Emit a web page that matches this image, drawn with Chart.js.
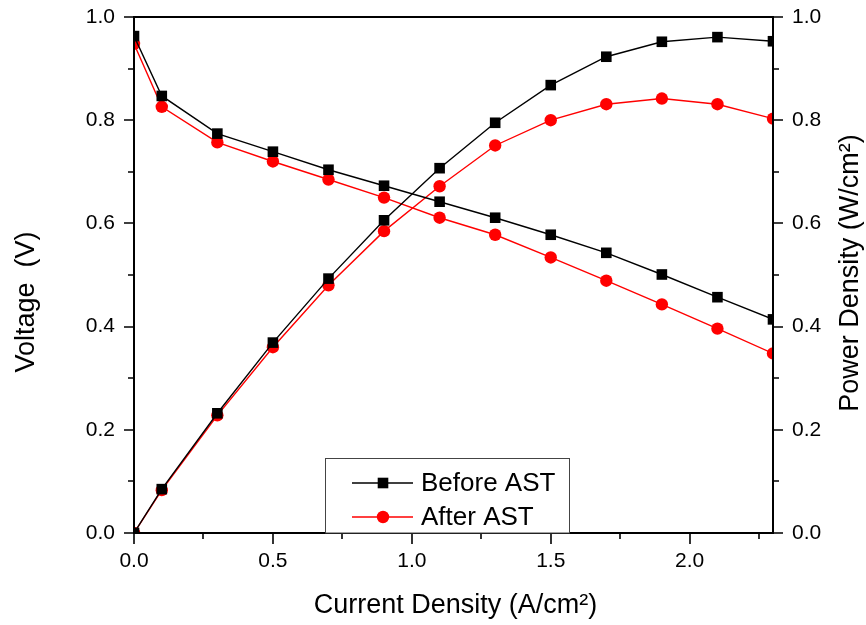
<!DOCTYPE html>
<html>
<head>
<meta charset="UTF-8"/>
<title>Polarization before / after AST</title>
<script src="https://cdn.jsdelivr.net/npm/chart.js@4.4.3/dist/chart.umd.min.js"></script>
<style>
  *{margin:0;padding:0}
  body{background:#fff;width:866px;height:625px;overflow:hidden}
  canvas{display:block}
</style>
</head>
<body>
<canvas id="chart" width="866" height="625"></canvas>
<script>
// ─── Data ─────────────────────────────────────────────────────────────────────
const currentDensity = [0, 0.1, 0.3, 0.5, 0.7, 0.9, 1.1, 1.3, 1.5, 1.7, 1.9, 2.1, 2.3];
const voltageBefore  = [0.963, 0.847, 0.774, 0.739, 0.704, 0.673, 0.642, 0.611, 0.578, 0.543, 0.501, 0.457, 0.414];
const voltageAfter   = [0.948, 0.826, 0.757, 0.720, 0.685, 0.650, 0.611, 0.578, 0.534, 0.489, 0.443, 0.396, 0.348];
const powerBefore    = [0, 0.085, 0.232, 0.369, 0.493, 0.606, 0.707, 0.795, 0.868, 0.923, 0.952, 0.961, 0.953];
const powerAfter     = [0, 0.083, 0.228, 0.360, 0.480, 0.585, 0.672, 0.751, 0.800, 0.831, 0.842, 0.831, 0.803];

const seriesNames = ['Before AST', 'After AST'];
const xMajor = [0, 0.5, 1.0, 1.5, 2.0];
const xMinor = [0.25, 0.75, 1.25, 1.75, 2.25];
const yMajor = [0, 0.2, 0.4, 0.6, 0.8, 1.0];
const yMinor = [0.1, 0.3, 0.5, 0.7, 0.9];

const xTitle  = 'Current Density (A/cm²)';
const yTitle  = 'Voltage  (V)';
const y2Title = 'Power Density (W/cm²)';

const FONT = "'Liberation Sans', Arial, sans-serif";
const BLACK = '#000000';
const RED = '#ff0000';

const pts = ys => currentDensity.map((x, i) => ({ x, y: ys[i] }));

function ds(label, data, color, style, axis) {
  return {
    label, data, yAxisID: axis,
    borderColor: color, backgroundColor: color,
    borderWidth: 1.4, pointStyle: style,
    pointRadius: style === 'rect' ? 7.5 : 6.2,
    pointHoverRadius: style === 'rect' ? 7.5 : 6.2,
    pointBorderWidth: 0, tension: 0, fill: false,
  };
}

// ─── Frame, tick marks, titles and legend ─────────────────────────────────────
const decor = {
  id: 'decor',
  afterDraw(chart) {
    const { ctx, chartArea: a, scales } = chart;
    const { x, y, y2 } = scales;
    ctx.save();
    ctx.strokeStyle = BLACK;
    ctx.lineWidth = 2;
    ctx.strokeRect(a.left, a.top, a.right - a.left, a.bottom - a.top);

    ctx.lineWidth = 1.6;
    ctx.beginPath();
    const tickX = (vals, len) => vals.forEach(v => {
      const px = Math.round(x.getPixelForValue(v));
      ctx.moveTo(px, a.bottom); ctx.lineTo(px, a.bottom + len);
    });
    const tickY = (scale, vals, len, side) => vals.forEach(v => {
      const py = Math.round(scale.getPixelForValue(v));
      const x0 = side < 0 ? a.left : a.right;
      ctx.moveTo(x0, py); ctx.lineTo(x0 + side * len, py);
    });
    tickX(xMajor, 11); tickX(xMinor, 6);
    tickY(y, yMajor, 10, -1); tickY(y, yMinor, 6, -1);
    tickY(y2, yMajor, 10, 1); tickY(y2, yMinor, 6, 1);
    ctx.stroke();

    // axis titles
    ctx.fillStyle = BLACK;
    ctx.font = `27px ${FONT}`;
    ctx.textAlign = 'center';
    ctx.textBaseline = 'middle';
    ctx.fillText(xTitle, (a.left + a.right) / 2 + 2, 606);
    ctx.save();
    ctx.translate(27, 302); ctx.rotate(-Math.PI / 2);
    ctx.fillText(yTitle, 0, 0);
    ctx.restore();
    ctx.save();
    ctx.translate(851, 273); ctx.rotate(-Math.PI / 2);
    ctx.fillText(y2Title, 0, 0);
    ctx.restore();

    // legend
    ctx.lineWidth = 1;
    ctx.strokeStyle = '#444';
    ctx.fillStyle = '#fff';
    ctx.fillRect(325.5, 458.5, 244, a.bottom - 458.5);
    ctx.strokeRect(325.5, 458.5, 244, a.bottom - 458.5);
    const items = chart.data.datasets.filter(d => d.yAxisID === 'y');
    seriesNames.forEach((name, i) => {
      const d = items.find(s => s.label === name);
      const ly = 483 + i * 34;
      ctx.strokeStyle = d.borderColor;
      ctx.lineWidth = d.borderWidth;
      ctx.beginPath(); ctx.moveTo(352, ly); ctx.lineTo(413, ly); ctx.stroke();
      ctx.fillStyle = d.backgroundColor;
      Chart.helpers.drawPoint(ctx, { pointStyle: d.pointStyle, radius: d.pointRadius, borderWidth: 0 }, 383, ly);
      ctx.fillStyle = BLACK;
      ctx.font = `26px ${FONT}`;
      ctx.textAlign = 'left';
      ctx.fillText(name, 421, ly + 1);
    });
    ctx.restore();
  }
};

// ─── Chart ────────────────────────────────────────────────────────────────────
const tickFont = { family: FONT, size: 21 };
const noPad = s => { s.paddingTop = 0; s.paddingBottom = 0; s.paddingLeft = 0; s.paddingRight = 0; };

new Chart(document.getElementById('chart'), {
  type: 'line',
  data: {
    datasets: [
      ds('After AST',  pts(voltageAfter),  RED,   'circle', 'y'),
      ds('After AST',  pts(powerAfter),    RED,   'circle', 'y2'),
      ds('Before AST', pts(voltageBefore), BLACK, 'rect',   'y'),
      ds('Before AST', pts(powerBefore),   BLACK, 'rect',   'y2'),
    ].reverse(),
  },
  options: {
    responsive: false,
    devicePixelRatio: 1,
    animation: false,
    layout: { padding: { top: 17, left: 0, right: 0, bottom: 0 } },
    plugins: { legend: { display: false }, tooltip: { enabled: false } },
    scales: {
      x: {
        type: 'linear', min: 0, max: 2.3,
        grid: { display: false }, border: { display: false },
        ticks: { stepSize: 0.5, includeBounds: false, color: BLACK, font: tickFont, padding: 8,
                 maxRotation: 0, callback: v => v.toFixed(1) },
        afterFit: s => { noPad(s); s.height = 92; },
      },
      y: {
        position: 'left', min: 0, max: 1,
        grid: { display: false }, border: { display: false },
        ticks: { stepSize: 0.2, color: BLACK, font: tickFont, padding: 11, callback: v => v.toFixed(1) },
        afterFit: s => { noPad(s); s.width = 134; },
      },
      y2: {
        position: 'right', min: 0, max: 1,
        grid: { display: false }, border: { display: false },
        ticks: { stepSize: 0.2, color: BLACK, font: tickFont, padding: 11, callback: v => v.toFixed(1) },
        afterFit: s => { noPad(s); s.width = 93; },
      },
    },
  },
  plugins: [decor],
});
</script>
</body>
</html>
